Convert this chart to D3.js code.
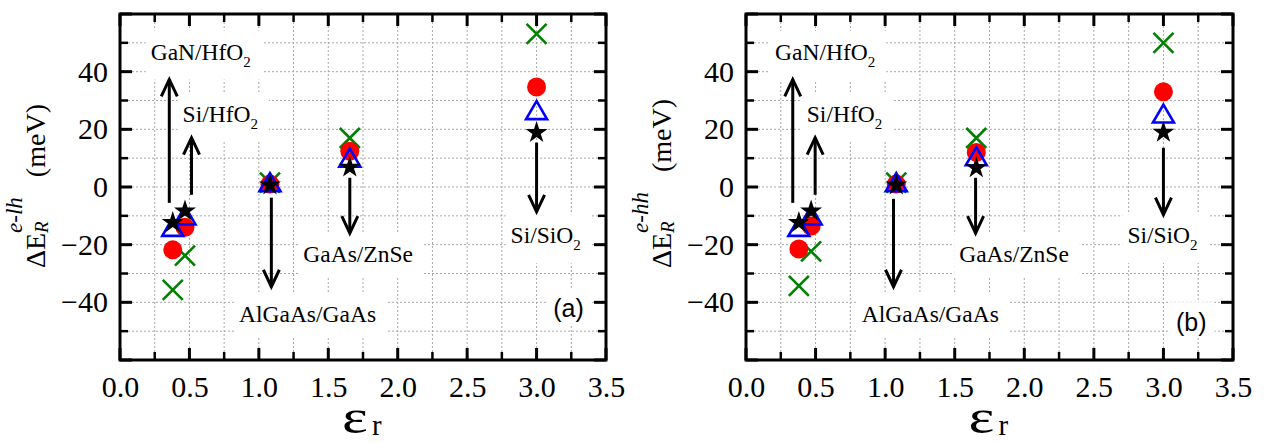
<!DOCTYPE html>
<html>
<head>
<meta charset="utf-8">
<script src="https://cdn.jsdelivr.net/npm/d3@7"></script>
<style>
  body { margin: 0; background: #fff; }
  svg { display: block; }
</style>
</head>
<body>
<svg id="chart" width="1268" height="443"></svg>
<script>
// Heterostructures and their dielectric mismatch ε_r
const interfaces = ["GaN/HfO2", "Si/HfO2", "AlGaAs/GaAs", "GaAs/ZnSe", "Si/SiO2"];
const epsR = [0.38, 0.468, 1.08, 1.655, 3.0];

// Panel (a): ΔE_R^{e-lh} (meV), four model series
const crossA  = [-35.7, -23.8, 1.5, 17.0, 53.1];
const circleA = [-21.8, -14.0, 1.0, 12.4, 34.7];
const triA    = [-14.0, -10.0, 1.5, 10.0, 26.5];
const starA   = [-12.0,  -8.0, 1.0,  7.2, 19.2];

// Panel (b): ΔE_R^{e-hh} (meV)
const crossB  = [-34.3, -22.3, 1.5, 17.0, 50.0];
const circleB = [-21.5, -13.5, 1.0, 12.0, 33.0];
const triB    = [-14.0, -10.0, 1.5, 10.5, 25.3];
const starB   = [-12.0,  -8.0, 1.0,  7.0, 19.3];

// Arrows (x, start, end) in data units
const arrowXA    = [0.355, 0.515, 1.09, 1.655, 3.0];
const arrowFromA = [-5.5, -2.7, -3.7, 3.2, 15.4];
const arrowToA   = [37.3, 17.1, -34.6, -16.0, -8.6];
const arrowXB    = [0.336, 0.497, 1.06, 1.65, 3.0];
const arrowFromB = [-5.5, -2.7, -4.1, 3.2, 13.6];
const arrowToB   = [37.3, 17.1, -34.6, -16.0, -9.6];

// Label anchors (start x, baseline y) in data units
const labelXA = [0.221, 0.451, 0.857, 1.32, 2.813];
const labelYA = [44.2, 22.6, -46.7, -26.0, -19.5];
const labelXB = [0.209, 0.437, 0.832, 1.532, 2.741];
const labelYB = [44.05, 22.6, -46.7, -25.9, -19.4];

// Axis ticks
const xMajor = [0, 0.5, 1, 1.5, 2, 2.5, 3, 3.5];
const xMinor = [0.25, 0.75, 1.25, 1.75, 2.25, 2.75, 3.25];
const yMajor = [-60, -40, -20, 0, 20, 40, 60];
const yMinor = [-50, -30, -10, 10, 30, 50];
const yLabelled = [-40, -20, 0, 20, 40];

const panels = [
  { left: 120, right: 606, tag: "(a)", tagX: 3.12, tagY: -45, sup: "e-lh",
    cross: crossA, circle: circleA, tri: triA, star: starA,
    ax: arrowXA, af: arrowFromA, at: arrowToA, lx: labelXA, ly: labelYA },
  { left: 746, right: 1233, tag: "(b)", tagX: 3.09, tagY: -50, sup: "e-hh",
    cross: crossB, circle: circleB, tri: triB, star: starB,
    ax: arrowXB, af: arrowFromB, at: arrowToB, lx: labelXB, ly: labelYB }
];

const plotTop = 14, plotBottom = 360;
const serif = "Liberation Serif";
const sans = "Liberation Sans";
const svg = d3.select("#chart");

panels.forEach(p => {
  const x = d3.scaleLinear().domain([0, 3.5]).range([p.left, p.right]);
  const y = d3.scaleLinear().domain([-60, 60]).range([plotBottom, plotTop]);
  const g = svg.append("g");

  // dotted grid at every major and minor tick
  const grid = g.append("g").attr("stroke", "#a8a8a8").attr("stroke-width", 1)
    .attr("stroke-dasharray", "2,2");
  grid.selectAll("line.gx").data(xMajor.concat(xMinor).filter(v => v > 0 && v < 3.5))
    .join("line").attr("x1", d => x(d)).attr("x2", d => x(d))
    .attr("y1", plotTop).attr("y2", plotBottom);
  grid.selectAll("line.gy").data(yMajor.concat(yMinor).filter(v => v > -60 && v < 60))
    .join("line").attr("y1", d => y(d)).attr("y2", d => y(d))
    .attr("x1", p.left).attr("x2", p.right);

  // annotation labels with white boxes
  const labels = g.append("g");
  interfaces.forEach((name, i) => {
    const m = name.match(/^(.*?)(2?)$/);
    const t = labels.append("text")
      .attr("x", x(p.lx[i])).attr("y", y(p.ly[i]))
      .style("font-family", serif).style("font-size", "23.5px").attr("fill", "#000");
    t.append("tspan").text(m[1]);
    if (m[2]) t.append("tspan").style("font-size", "15px").attr("dy", 7).text(m[2]);
    const bb = t.node().getBBox();
    labels.insert("rect", "text")
      .attr("x", bb.x - 5).attr("y", bb.y - 8)
      .attr("width", bb.width + 16).attr("height", bb.height + 18)
      .attr("fill", "#fff");
  });

  // panel tag
  const tag = g.append("text").attr("x", x(p.tagX)).attr("y", y(p.tagY))
    .style("font-family", sans).style("font-size", "25px").text(p.tag);
  const tb = tag.node().getBBox();
  g.insert("rect", () => tag.node())
    .attr("x", tb.x - 6).attr("y", tb.y - 6).attr("width", tb.width + 14)
    .attr("height", tb.height + 8).attr("fill", "#fff");

  // arrows
  const arrows = g.append("g").attr("stroke", "#000").attr("stroke-width", 3)
    .attr("fill", "none");
  p.ax.forEach((ax, i) => {
    const x0 = x(ax), y0 = y(p.af[i]), y1 = y(p.at[i]);
    const dir = y1 < y0 ? 1 : -1;
    arrows.append("line").attr("x1", x0).attr("x2", x0).attr("y1", y0).attr("y2", y1);
    arrows.append("path").attr("stroke-linejoin", "miter")
      .attr("d", `M${x0 - 8},${y1 + dir * 17}L${x0},${y1}L${x0 + 8},${y1 + dir * 17}`);
  });

  // markers: crosses, circles, triangles, stars
  const pts = g.append("g");
  pts.selectAll("path.cross").data(p.cross).join("path")
    .attr("transform", (d, i) => `translate(${x(epsR[i])},${y(d)})`)
    .attr("d", "M-10,-10L10,10M-10,10L10,-10")
    .attr("stroke", "#008000").attr("stroke-width", 2.6).attr("fill", "none");
  pts.selectAll("circle").data(p.circle).join("circle")
    .attr("cx", (d, i) => x(epsR[i])).attr("cy", d => y(d)).attr("r", 9.5)
    .attr("fill", "#ff0000");
  pts.selectAll("path.tri").data(p.tri).join("path")
    .attr("transform", (d, i) => `translate(${x(epsR[i])},${y(d)})`)
    .attr("d", "M0,-9.5L10.5,8.5L-10.5,8.5Z")
    .attr("stroke", "#0000ff").attr("stroke-width", 2.6).attr("fill", "none");
  const star = d3.symbol().type(d3.symbolStar).size(150);
  pts.selectAll("path.star").data(p.star).join("path")
    .attr("transform", (d, i) => `translate(${x(epsR[i])},${y(d) + 1})`)
    .attr("d", star).attr("fill", "#000");

  // inward ticks on all four sides
  const tk = g.append("g").attr("stroke", "#000");
  const tickSet = (vals, len, w) => {
    vals.forEach(v => {
      tk.append("line").attr("stroke-width", w).attr("x1", x(v)).attr("x2", x(v))
        .attr("y1", plotBottom).attr("y2", plotBottom - len);
      tk.append("line").attr("stroke-width", w).attr("x1", x(v)).attr("x2", x(v))
        .attr("y1", plotTop).attr("y2", plotTop + len);
    });
  };
  tickSet(xMajor, 12, 3);
  tickSet(xMinor, 8, 2.5);
  const ytickSet = (vals, len, w) => {
    vals.forEach(v => {
      tk.append("line").attr("stroke-width", w).attr("y1", y(v)).attr("y2", y(v))
        .attr("x1", p.left).attr("x2", p.left + len);
      tk.append("line").attr("stroke-width", w).attr("y1", y(v)).attr("y2", y(v))
        .attr("x1", p.right).attr("x2", p.right - len);
    });
  };
  ytickSet(yMajor, 12, 3);
  ytickSet(yMinor, 8, 2.5);

  // frame
  g.append("rect").attr("x", p.left).attr("y", plotTop)
    .attr("width", p.right - p.left).attr("height", plotBottom - plotTop)
    .attr("fill", "none").attr("stroke", "#000").attr("stroke-width", 3);

  // tick labels through d3 axes
  const xAxis = d3.axisBottom(x).tickValues(xMajor).tickFormat(d3.format(".1f"))
    .tickSize(0).tickPadding(16);
  g.append("g").attr("transform", `translate(0,${plotBottom})`).call(xAxis)
    .call(a => a.select(".domain").remove())
    .selectAll("text").style("font-family", serif).style("font-size", "30px").attr("fill", "#000");
  const yAxis = d3.axisLeft(y).tickValues(yLabelled).tickFormat(d3.format("d"))
    .tickSize(0).tickPadding(12);
  g.append("g").attr("transform", `translate(${p.left},0)`).call(yAxis)
    .call(a => a.select(".domain").remove())
    .selectAll("text").style("font-family", serif).style("font-size", "30px").attr("fill", "#000");

  // axis titles
  const cx = (p.left + p.right) / 2;
  g.append("text").attr("transform", `translate(${cx - 8},433) scale(1.28,1)`)
    .attr("text-anchor", "middle").style("font-family", serif).style("font-size", "48px")
    .text("ε");
  g.append("text").attr("x", cx + 9).attr("y", 435)
    .style("font-family", serif).style("font-size", "29px").text("r");

  const yt = g.append("text")
    .attr("transform", `translate(${p.left - 75},268) rotate(-90)`)
    .style("font-family", serif).style("font-size", "28px");
  yt.append("tspan").text("ΔE");
  yt.append("tspan").style("font-style", "italic").style("font-size", "19px")
    .attr("dy", 3).text("R");
  yt.append("tspan").style("font-style", "italic").style("font-size", "23px")
    .attr("dx", -11.6).attr("dy", -26).text(p.sup);
  yt.append("tspan").attr("dx", 20).attr("dy", 23).text("(meV)");
});
</script>
</body>
</html>
